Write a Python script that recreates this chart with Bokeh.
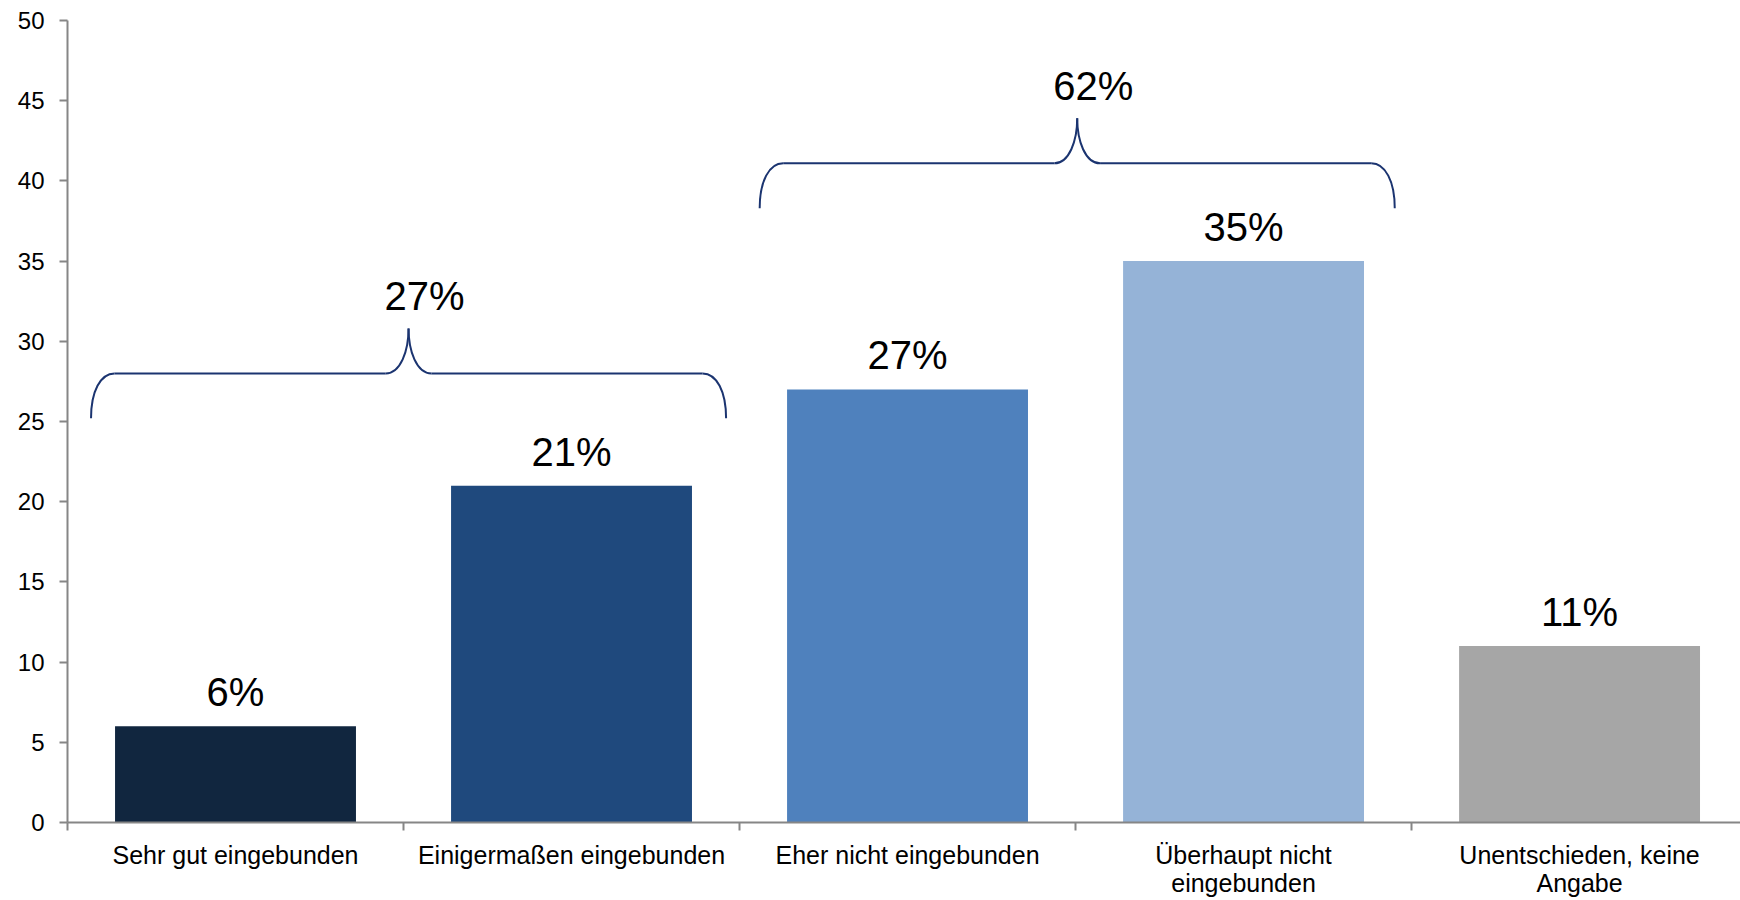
from bokeh.plotting import figure
from bokeh.models import Range1d, FixedTicker, SingleIntervalTicker, LabelSet, ColumnDataSource
from bokeh.core.properties import value
from bokeh.embed import file_html
from bokeh.resources import INLINE

# ---- data ----
categories = ["Sehr gut eingebunden", "Einigermaßen eingebunden", "Eher nicht eingebunden",
              "Überhaupt nicht\neingebunden", "Unentschieden, keine\nAngabe"]
values = [6, 21, 27, 35, 11]
value_labels = ["6%", "21%", "27%", "35%", "11%"]
bar_colors = ["#11263F", "#1F497D", "#4F81BD", "#95B3D7", "#A6A6A6"]

brace_labels = ["27%", "62%"]
brace_left = [0.07, 2.06]      # in category units
brace_right = [1.96, 3.95]
brace_base = [25.2, 38.3]      # y value of brace ends

FONT = "Liberation Sans"
AXIS_COLOR = "#868686"
BRACE_COLOR = "#1B3470"

xs = [i + 0.5 for i in range(len(categories))]

p = figure(width=1740, height=900, output_backend="svg", toolbar_location=None,
           x_range=Range1d(0, 4.979), y_range=Range1d(0, 50),
           min_border_left=67, min_border_right=0, min_border_top=20, min_border_bottom=0)
p.outline_line_color = None
p.xgrid.grid_line_color = None
p.ygrid.grid_line_color = None
p.background_fill_color = "white"
p.border_fill_color = "white"

src = ColumnDataSource(dict(x=xs, top=values, color=bar_colors, lab=value_labels))
p.vbar(x="x", top="top", width=0.717, color="color", line_color=None, source=src)

p.add_layout(LabelSet(x="x", y="top", text="lab", source=src, y_offset=20,
                      text_align="center", text_baseline="alphabetic",
                      text_font=value(FONT), text_font_size="40px", text_color="black"))

# ---- braces ----
bh = 2.8     # vertical size of each brace half (data units)
cw = 0.07    # corner width (category units)
mw = 0.068   # cusp width
bz = dict(x0=[], y0=[], x1=[], y1=[], cx0=[], cy0=[], cx1=[], cy1=[])
seg = dict(x0=[], y0=[], x1=[], y1=[])
lab = dict(x=[], y=[], t=[])

def add_bez(a, b, c0, c1):
    bz["x0"].append(a[0]); bz["y0"].append(a[1])
    bz["x1"].append(b[0]); bz["y1"].append(b[1])
    bz["cx0"].append(c0[0]); bz["cy0"].append(c0[1])
    bz["cx1"].append(c1[0]); bz["cy1"].append(c1[1])

for x0, x1, yb, t in zip(brace_left, brace_right, brace_base, brace_labels):
    xm = (x0 + x1) / 2
    yh = yb + bh
    yt = yb + 2 * bh
    add_bez((x0, yb), (x0 + cw, yh), (x0, yb + 0.6 * bh), (x0 + 0.4 * cw, yh))
    add_bez((x1, yb), (x1 - cw, yh), (x1, yb + 0.6 * bh), (x1 - 0.4 * cw, yh))
    add_bez((xm - mw, yh), (xm, yt), (xm - 0.35 * mw, yh), (xm, yh + 0.5 * bh))
    add_bez((xm + mw, yh), (xm, yt), (xm + 0.35 * mw, yh), (xm, yh + 0.5 * bh))
    seg["x0"] += [x0 + cw, xm + mw]; seg["x1"] += [xm - mw, x1 - cw]
    seg["y0"] += [yh, yh]; seg["y1"] += [yh, yh]
    lab["x"].append(xm); lab["y"].append(yt); lab["t"].append(t)

p.bezier(x0="x0", y0="y0", x1="x1", y1="y1", cx0="cx0", cy0="cy0", cx1="cx1", cy1="cy1",
         source=ColumnDataSource(bz), line_color=BRACE_COLOR, line_width=2)
p.segment(x0="x0", y0="y0", x1="x1", y1="y1", source=ColumnDataSource(seg),
          line_color=BRACE_COLOR, line_width=2)
p.add_layout(LabelSet(x="x", y="y", text="t", source=ColumnDataSource(lab),
                      x_offset=16, y_offset=18, text_align="center", text_baseline="alphabetic",
                      text_font=value(FONT), text_font_size="40px", text_color="black"))

# ---- axes ----
xa = p.xaxis[0]
xa.ticker = FixedTicker(ticks=xs, minor_ticks=list(range(len(categories) + 1)))
xa.major_label_overrides = {x: c for x, c in zip(xs, categories)}
xa.major_tick_line_color = None
xa.major_tick_out = 0
xa.major_tick_in = 0
xa.minor_tick_line_color = AXIS_COLOR
xa.minor_tick_line_width = 2
xa.minor_tick_out = 8
xa.minor_tick_in = 0
xa.axis_line_color = AXIS_COLOR
xa.axis_line_width = 2
xa.major_label_standoff = 10
xa.major_label_text_font = FONT
xa.major_label_text_font_size = "25px"
xa.major_label_text_color = "black"
xa.major_label_text_line_height = 1.02

ya = p.yaxis[0]
ya.ticker = SingleIntervalTicker(interval=5, num_minor_ticks=0)
ya.axis_line_color = AXIS_COLOR
ya.axis_line_width = 2
ya.major_tick_line_color = AXIS_COLOR
ya.major_tick_line_width = 2
ya.major_tick_out = 8
ya.major_tick_in = 0
ya.minor_tick_line_color = None
ya.major_label_standoff = 15
ya.major_label_text_font = FONT
ya.major_label_text_font_size = "24px"
ya.major_label_text_color = "black"

open("out.html", "w").write(file_html(p, INLINE))
